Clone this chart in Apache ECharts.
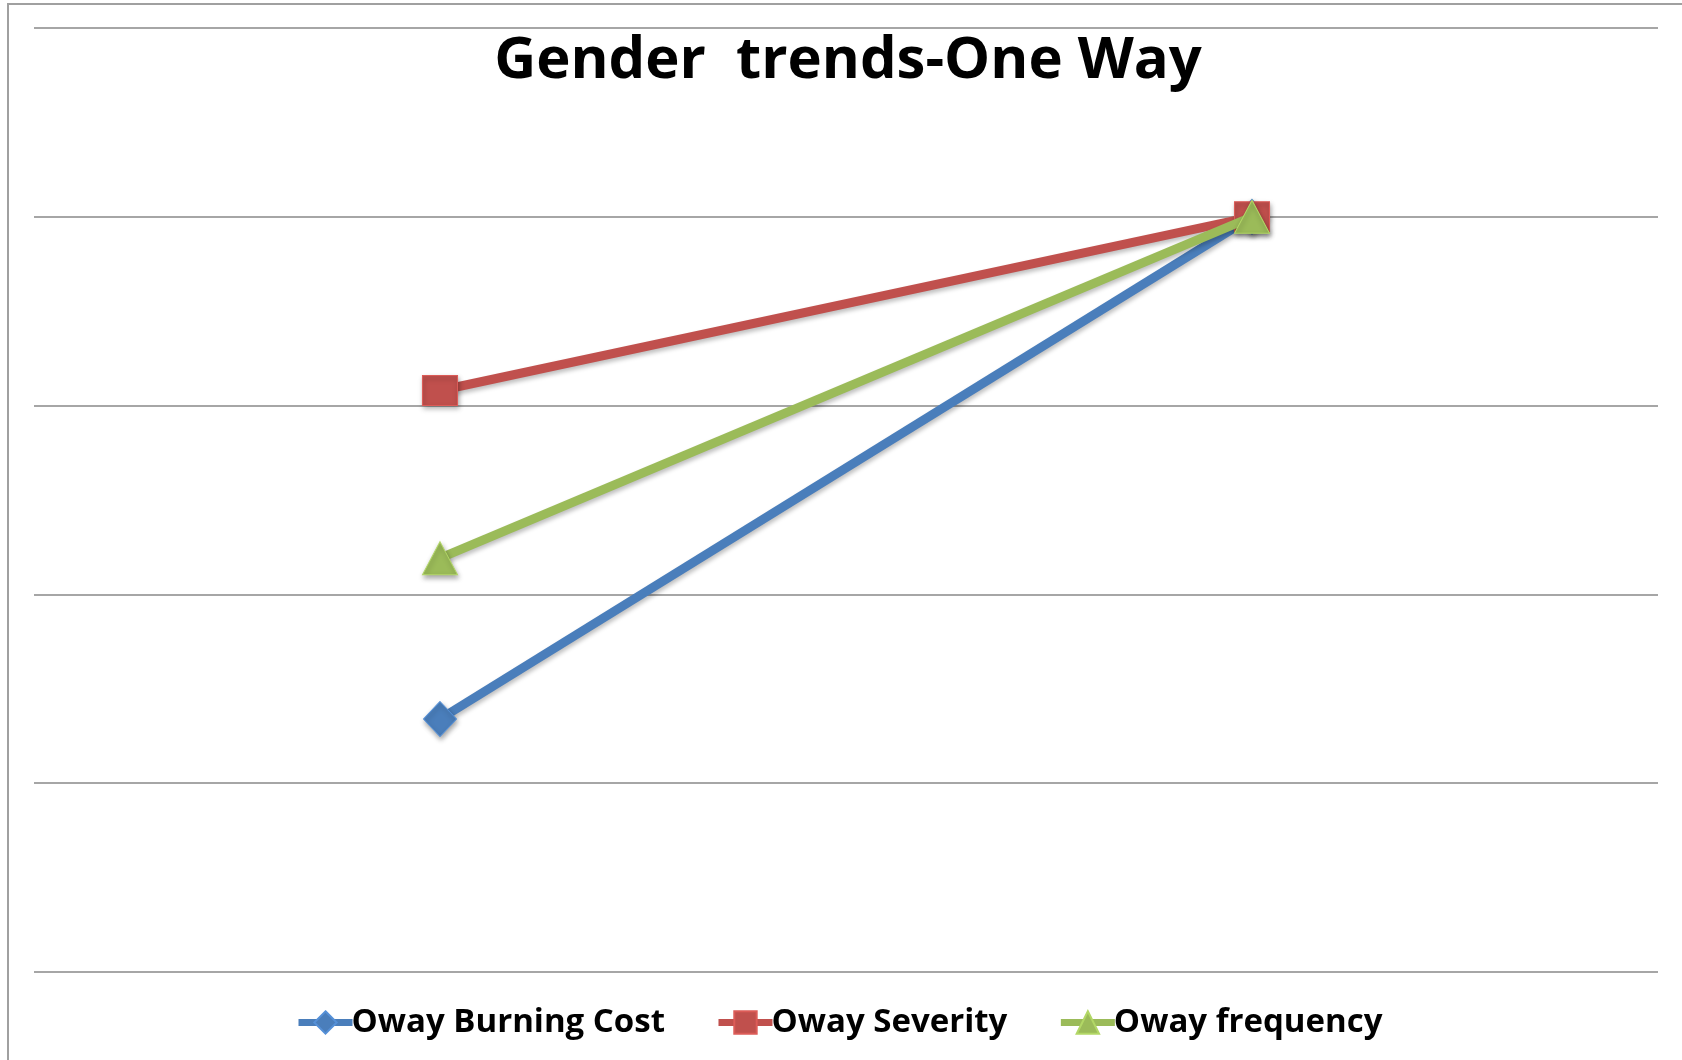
<!DOCTYPE html>
<html>
<head>
<meta charset="utf-8">
<script src="https://cdn.jsdelivr.net/npm/echarts@6/dist/echarts.min.js"></script>
<style>
  html, body { margin: 0; padding: 0; background: #fff; }
  #chart { width: 1682px; height: 1060px; }
</style>
</head>
<body>
<div id="chart"></div>
<script>
// Gender groups on the category axis
const categories = ['Female', 'Male'];

// One-way relativities by gender (Male = 1.0 base)
const burningCost = [0.335, 1.0];
const severity = [0.77, 1.0];
const frequency = [0.548, 1.0];

// Value axis range (no tick labels drawn)
const yMin = 0;
const yMax = 1.25;
const yStep = 0.25;

const titleText = 'Gender  trends-One Way';
const seriesNames = ['Oway Burning Cost', 'Oway Severity', 'Oway frequency'];

const colors = ['#4A7EBB', '#C0504D', '#9BBB59'];
const symbols = ['diamond', 'rect', 'triangle'];
const symbolSizes = [[33, 35], [35, 30], [35, 33]];
const seriesData = [burningCost, severity, frequency];

const chart = echarts.init(document.getElementById('chart'), null, { renderer: 'canvas' });

const series = seriesData.map((data, i) => ({
  name: seriesNames[i],
  type: 'line',
  data: data,
  symbol: symbols[i],
  symbolSize: symbolSizes[i],
  showAllSymbol: true,
  z: 2 + i,
  lineStyle: {
    width: 9,
    color: colors[i],
    shadowColor: 'rgba(0,0,0,0.25)',
    shadowBlur: 4,
    shadowOffsetX: 1,
    shadowOffsetY: 3
  },
  itemStyle: {
    color: colors[i],
    borderColor: echarts.color.lift(colors[i], -0.15),
    borderWidth: 1,
    shadowColor: 'rgba(0,0,0,0.35)',
    shadowBlur: 5,
    shadowOffsetX: 1,
    shadowOffsetY: 3
  },
  emphasis: { disabled: true },
  animation: false
}));

chart.setOption({
  backgroundColor: '#ffffff',
  animation: false,
  title: {
    text: titleText,
    left: 843,
    textAlign: 'center',
    top: 27,
    textStyle: {
      fontFamily: 'Open Sans',
      fontWeight: 'bold',
      fontSize: 58,
      color: '#000'
    }
  },
  legend: {
    data: seriesNames,
    bottom: 16,
    left: 290,
    itemWidth: 54,
    itemHeight: 28,
    itemGap: 50,
    lineStyle: { width: 7 },
    textStyle: {
      fontFamily: 'Open Sans',
      fontWeight: 'bold',
      fontSize: 33,
      color: '#000',
      padding: [0, 0, 0, -6]
    }
  },
  grid: {
    left: 34,
    right: 24,
    top: 28,
    bottom: 88,
    containLabel: false
  },
  xAxis: {
    type: 'category',
    data: categories,
    boundaryGap: true,
    axisLine: { show: false },
    axisTick: { show: false },
    axisLabel: { show: false },
    splitLine: { show: false }
  },
  yAxis: {
    type: 'value',
    min: yMin,
    max: yMax,
    interval: yStep,
    axisLine: { show: false },
    axisTick: { show: false },
    axisLabel: { show: false },
    splitLine: { show: true, lineStyle: { color: '#A6A6A6', width: 2 } }
  },
  graphic: [{
    type: 'rect',
    shape: { x: 8, y: 4, width: 1700, height: 1100 },
    style: { fill: 'none', stroke: '#A0A0A0', lineWidth: 2 },
    silent: true,
    z: 0
  }],
  series: series
});
</script>
</body>
</html>
